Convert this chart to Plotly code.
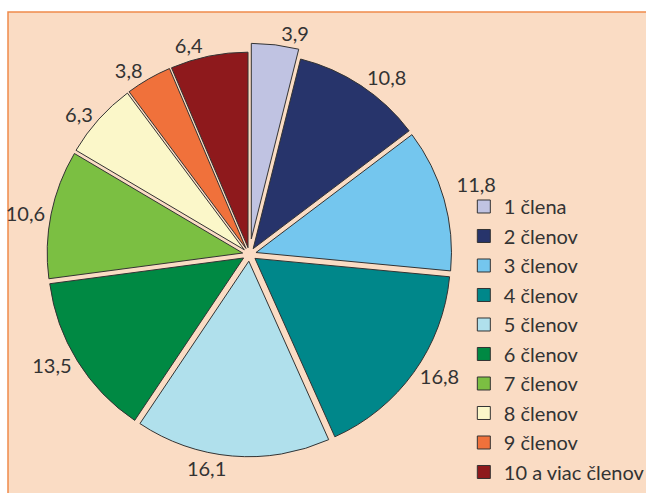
import plotly.graph_objects as go

# household size shares (%)
labels = ["1 člena", "2 členov", "3 členov", "4 členov", "5 členov",
          "6 členov", "7 členov", "8 členov", "9 členov", "10 a viac členov"]
values = [3.9, 10.8, 11.8, 16.8, 16.1, 13.5, 10.6, 6.3, 3.8, 6.4]
colors = ["#c0c3e2", "#27346b", "#74c6ee", "#00878a", "#b0e0ec",
          "#008943", "#7bbf42", "#fbf7c9", "#f0713b", "#8e191c"]
pulls = [0.08, 0.035, 0.035, 0.035, 0.035, 0.035, 0.035, 0.035, 0.035, 0.035]

FONT = "Lato"
TXT = "#333333"
W, H = 646, 493

# value labels with decimal comma; the 3-member label gets an empty
# second line so plotly lifts it clear of the legend
value_text = [f"{v:.1f}".replace(".", ",") for v in values]
value_text[2] += "<br>&nbsp;"

fig = go.Figure()
fig.add_trace(go.Pie(
    labels=labels, values=values, sort=False,
    direction="clockwise", rotation=0,
    pull=pulls,
    marker=dict(colors=colors, line=dict(color="#333333", width=1)),
    text=value_text, texttemplate="%{text}", textposition="outside",
    textfont=dict(family=FONT, size=20, color=TXT),
    domain=dict(x=[0.0592, 0.7129], y=[0.0557, 0.9123]),
    showlegend=False, hoverinfo="label+value",
))

# legend entries (one per category)
for i, lab in enumerate(labels):
    fig.add_trace(go.Scatter(
        x=[None], y=[None], mode="markers", name=lab, legendgroup=lab,
        marker=dict(symbol="square", size=13, color=colors[i],
                    line=dict(color="#333333", width=1)),
    ))

fig.add_shape(type="rect", xref="paper", yref="paper",
              x0=8 / W, x1=1.02, y0=-0.02, y1=1 - 12 / H,
              fillcolor="#fadcc4", line=dict(color="#f08a4b", width=1.5),
              layer="below")

fig.update_layout(
    width=W, height=H,
    margin=dict(l=0, r=0, t=0, b=0, autoexpand=False),
    paper_bgcolor="white", plot_bgcolor="rgba(0,0,0,0)",
    font=dict(family=FONT, color=TXT),
    xaxis=dict(visible=False), yaxis=dict(visible=False),
    legend=dict(x=0.718, y=0.6207, xanchor="left", yanchor="top",
                bgcolor="rgba(0,0,0,0)", tracegroupgap=0.5,
                traceorder="grouped",
                font=dict(family=FONT, size=20, color=TXT)),
    showlegend=True,
)

# drop the default body margin so the figure fills the window
fig.write_html("out.html", config={"displayModeBar": False},
               post_script="document.body.style.margin='0';"
                           "document.body.style.overflow='hidden';")
